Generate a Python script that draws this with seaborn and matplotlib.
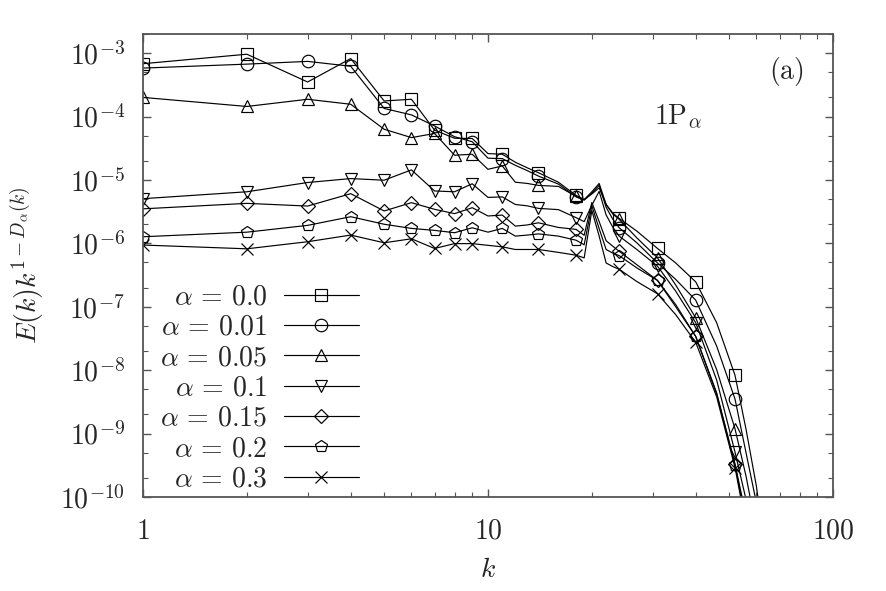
import numpy as np
import pandas as pd
import matplotlib
matplotlib.use("Agg")
import matplotlib.pyplot as plt
import matplotlib.ticker as mticker
import seaborn as sns

# wavenumbers (markers only on a subset of them)
k = [1, 2, 3, 4, 5, 6, 7, 8, 9, 10, 11, 12, 13, 14, 16, 18, 19, 20, 21, 22, 23,
     24, 27, 31, 35, 40, 46, 52, 56, 60, 63]
mark_idx = [0, 1, 2, 3, 4, 5, 6, 7, 8, 10, 13, 15, 21, 23, 25, 27]

e_000 = [6.8e-4, 9.6e-4, 3.5e-4, 8.2e-4, 1.76e-4, 1.87e-4, 6.1e-5, 4.54e-5, 4.5e-5,
         2.6e-5, 2.54e-5, 1.9e-5, 1.55e-5, 1.30e-5, 9.2e-6, 5.7e-6, 4.9e-6, 6.5e-6,
         8.8e-6, 4.1e-6, 3.0e-6, 2.47e-6, 1.56e-6, 8.3e-7, 4.9e-7, 2.47e-7, 5.6e-8,
         8.3e-9, 1.15e-9, 1.46e-10, 2e-11]
e_001 = [5.8e-4, 6.7e-4, 7.4e-4, 6.2e-4, 1.34e-4, 1.06e-4, 7.1e-5, 4.8e-5, 4.0e-5,
         2.2e-5, 2.17e-5, 1.7e-5, 1.4e-5, 1.15e-5, 8.6e-6, 5.4e-6, 4.8e-6, 6.2e-6,
         8.2e-6, 3.7e-6, 2.4e-6, 1.76e-6, 1.02e-6, 4.9e-7, 2.7e-7, 1.27e-7, 2.4e-8,
         3.5e-9, 4.9e-10, 8e-11, 1.5e-11]
e_005 = [2.0e-4, 1.44e-4, 1.87e-4, 1.56e-4, 6.3e-5, 4.65e-5, 5.4e-5, 2.45e-5, 2.54e-5,
         1.47e-5, 1.66e-5, 9.2e-6, 8.8e-6, 8.2e-6, 7.9e-6, 5.5e-6, 4.9e-6, 6.0e-6,
         7.5e-6, 4.1e-6, 2.9e-6, 2.39e-6, 1.22e-6, 5.9e-7, 2.2e-7, 6.7e-8, 1.02e-8,
         1.19e-9, 2.1e-10, 3e-11, 8e-12]
e_010 = [5.06e-6, 6.5e-6, 9.1e-6, 1.05e-5, 9.9e-6, 1.44e-5, 6.7e-6, 6.5e-6, 8.7e-6,
         5.3e-6, 5.4e-6, 4.1e-6, 3.9e-6, 3.56e-6, 3.4e-6, 2.54e-6, 2.2e-6, 4.0e-6,
         6.6e-6, 2.8e-6, 1.8e-6, 1.3e-6, 8e-7, 4.36e-7, 1.76e-7, 5.6e-8, 7e-9,
         5.1e-10, 9e-11, 1.5e-11, 4e-12]
e_015 = [3.5e-6, 4.27e-6, 3.87e-6, 6.07e-6, 3.24e-6, 4.38e-6, 3.44e-6, 2.94e-6, 3.65e-6,
         2.7e-6, 2.79e-6, 1.87e-6, 1.95e-6, 2.11e-6, 1.78e-6, 1.66e-6, 1.34e-6, 4.4e-6,
         2.2e-6, 1.1e-6, 9e-7, 7.5e-7, 4.6e-7, 2.6e-7, 1.08e-7, 3.4e-8, 4.4e-9,
         3.3e-10, 5e-11, 8e-12, 2e-12]
e_020 = [1.27e-6, 1.5e-6, 1.92e-6, 2.63e-6, 2.0e-6, 1.72e-6, 1.6e-6, 1.47e-6, 1.76e-6,
         1.5e-6, 1.72e-6, 1.3e-6, 1.35e-6, 1.41e-6, 1.3e-6, 1.12e-6, 9.5e-7, 3.9e-6,
         1.7e-6, 8e-7, 7e-7, 6.4e-7, 4.1e-7, 2.6e-7, 1.0e-7, 3.4e-8, 4.2e-9,
         3.2e-10, 4e-11, 6e-12, 1.5e-12]
e_030 = [9.4e-7, 8.2e-7, 1.06e-6, 1.35e-6, 1.02e-6, 1.18e-6, 8.3e-7, 9.9e-7, 9.9e-7,
         9.3e-7, 8.8e-7, 8.0e-7, 8.0e-7, 8.0e-7, 7.2e-7, 6.5e-7, 5.9e-7, 3.3e-6,
         1.3e-6, 4.9e-7, 4.3e-7, 3.9e-7, 2.5e-7, 1.6e-7, 7.5e-8, 2.75e-8, 3.8e-9,
         2.9e-10, 3.5e-11, 5e-12, 1e-12]

alphas = ["0.0", "0.01", "0.05", "0.1", "0.15", "0.2", "0.3"]
series = [e_000, e_001, e_005, e_010, e_015, e_020, e_030]
markers = ["s", "o", "^", "v", "D", "p", "x"]
msizes = [9, 9, 9, 9, 7, 9, 9]

sns.set_theme(style="ticks")
plt.rcParams["font.family"] = ["DejaVu Serif"]
plt.rcParams["mathtext.fontset"] = "cm"

fig = plt.figure(figsize=(8.86, 5.91), dpi=100)
ax = fig.add_axes([143 / 886, 1 - 497 / 591, 690 / 886, 463 / 591])

for vals, a, m, ms in zip(series, alphas, markers, msizes):
    df = pd.DataFrame({"k": k, "E": vals})
    sns.lineplot(data=df, x="k", y="E", ax=ax, color="black", linewidth=0.85,
                 marker=m, markevery=mark_idx, markersize=ms,
                 markerfacecolor="none", markeredgecolor="black",
                 markeredgewidth=0.85)

ax.set_xscale("log")
ax.set_yscale("log")
ax.set_xlim(1, 100)
ax.set_ylim(1e-10, 2e-3)

ax.xaxis.set_major_locator(mticker.LogLocator(base=10, numticks=10))
ax.xaxis.set_minor_locator(mticker.LogLocator(base=10, subs=np.arange(2, 10), numticks=20))
ax.yaxis.set_major_locator(mticker.LogLocator(base=10, numticks=20))
ax.yaxis.set_minor_locator(mticker.LogLocator(base=10, subs=(2, 5), numticks=20))
ax.xaxis.set_major_formatter(mticker.FuncFormatter(lambda v, p: rf"${v:g}$"))
ax.yaxis.set_major_formatter(
    mticker.FuncFormatter(lambda v, p: rf"$10^{{{int(round(np.log10(v)))}}}$"))
ax.xaxis.set_minor_formatter(mticker.NullFormatter())
ax.yaxis.set_minor_formatter(mticker.NullFormatter())

ax.tick_params(which="both", direction="in", top=True, right=True, color="#555555")
ax.tick_params(which="major", length=6, width=1.0, labelsize=20)
ax.tick_params(axis="y", which="major", pad=13)
ax.tick_params(axis="x", which="major", pad=15)
ax.tick_params(which="minor", length=3.5, width=0.8)
for sp in ax.spines.values():
    sp.set_color("#555555")
    sp.set_linewidth(1.3)

ax.set_xlabel(r"$k$", fontsize=20, labelpad=8)
ax.set_ylabel(r"$E(k)k^{1-D_\alpha(k)}$", fontsize=20, labelpad=10)

ax.text(0.933, 0.918, r"$\mathrm{(a)}$", transform=ax.transAxes,
        ha="center", va="center", fontsize=20)
ax.text(0.775, 0.821, r"$1\mathrm{P}_\alpha$", transform=ax.transAxes,
        ha="center", va="center", fontsize=20)

labels = [rf"$\alpha\,=\,{a}$" for a in alphas]
ax.legend(ax.lines, labels, loc="lower right", bbox_to_anchor=(0.313, 0.01),
          markerfirst=False, frameon=False, fontsize=20, handlelength=2.7,
          handletextpad=0.6, labelspacing=0.12, borderpad=0, borderaxespad=0)

fig.savefig("out.png", dpi=100)
